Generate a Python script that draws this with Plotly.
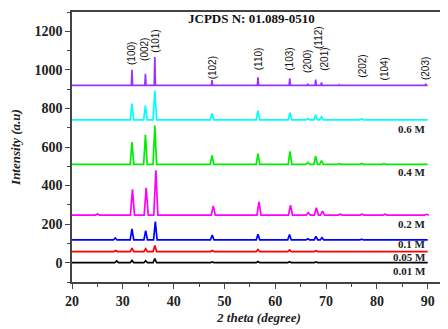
import plotly.graph_objects as go

# ---- data ----
series_names = ["0.01 M", "0.05 M", "0.1 M", "0.2 M", "0.4 M", "0.6 M", "JCPDS"]
baselines = [0, 58, 118, 247, 510, 741, 920]

peaks_001 = [(28.8, 9), (31.8, 12), (34.5, 10), (36.3, 22), (47.6, 4), (56.6, 6), (62.8, 5), (68.0, 4)]
peaks_005 = [(28.6, 5), (31.8, 18), (34.5, 14), (36.3, 31), (47.6, 5), (56.6, 10), (62.8, 8), (68.0, 4)]
peaks_01 = [(28.5, 10), (31.8, 57), (34.5, 48), (36.4, 95), (47.6, 26), (56.6, 30), (62.8, 28),
            (66.4, 6), (68.0, 19), (69.2, 12), (77.0, 4)]
peaks_02 = [(25.0, 6), (31.9, 133), (34.6, 141), (36.5, 232), (47.8, 48), (56.8, 69), (63.0, 52),
            (66.5, 12), (68.1, 38), (69.3, 21), (72.8, 5), (77.1, 5), (81.6, 5), (89.8, 4)]
peaks_04 = [(31.8, 115), (34.45, 153), (36.3, 201), (47.55, 46), (56.6, 56), (62.9, 67),
            (66.4, 10), (67.95, 43), (69.1, 20), (72.6, 4), (77.0, 5), (81.4, 4)]
peaks_06 = [(31.8, 84), (34.45, 74), (36.3, 150), (47.55, 33), (56.6, 47), (62.9, 37),
            (66.4, 6), (67.95, 25), (69.1, 15), (77.0, 4), (81.4, 3), (89.6, 3)]
peaks_ref = [(31.8, 80), (34.45, 60), (36.3, 146), (47.55, 27), (56.6, 41), (62.85, 36),
             (66.4, 5), (67.95, 29), (69.1, 15), (72.6, 3), (77.0, 3), (81.4, 3), (89.6, 5)]
all_peaks = [peaks_001, peaks_005, peaks_01, peaks_02, peaks_04, peaks_06, peaks_ref]

hkl_labels = ["(100)", "(002)", "(101)", "(102)", "(110)", "(103)", "(200)", "(112)", "(201)",
              "(202)", "(104)", "(203)"]
hkl_x = [31.75, 34.3, 36.4, 47.6, 56.6, 62.8, 66.2, 68.4, 69.7, 77.0, 81.5, 89.7]
hkl_y = [1086, 1107, 1148, 1009, 1060, 1055, 1045, 1170, 1055, 1020, 1005, 1005]

label_y = [-41, 32, 98, 201, 469, 695]

x_start, x_end = 20, 90

# ---- styles ----
colors = ["#000000", "#ff0000", "#0000ff", "#ff00ff", "#00ee00", "#00ffff", "#9933ff"]
half_widths = [0.35, 0.35, 0.35, 0.4, 0.35, 0.35, 0.12]

fig = go.Figure()
for name, base, pk, col, hw in zip(series_names, baselines, all_peaks, colors, half_widths):
    xs, ys = [x_start], [base]
    for p, h in pk:
        xs += [p - hw, p, p + hw]
        ys += [base, base + h, base]
    xs.append(x_end)
    ys.append(base)
    fig.add_trace(go.Scatter(x=xs, y=ys, mode="lines", name=name,
                             line=dict(color=col, width=1.7), showlegend=False))

for t, x, y in zip(hkl_labels, hkl_x, hkl_y):
    fig.add_annotation(x=x, y=y, text=t, textangle=-90, showarrow=False,
                       font=dict(family="Liberation Sans", size=10, color="#111"))

for t, y in zip(series_names[:6], label_y):
    fig.add_annotation(x=90, y=y, text=t, showarrow=False, xanchor="right",
                       font=dict(family="Liberation Serif", size=11, color="#222", weight="bold"))

fig.add_annotation(x=55.3, y=1267, text="JCPDS N: 01.089-0510", showarrow=False,
                   font=dict(family="Liberation Serif", size=13, color="#111", weight="bold"))

# page body has an 8px default margin, so the figure is sized/offset to compensate
fig.update_layout(
    width=440, height=321,
    margin=dict(l=64, r=0, t=4, b=47),
    paper_bgcolor="white", plot_bgcolor="white",
)
fig.update_xaxes(
    range=[20, 93.6], dtick=10, tick0=20, ticks="outside", ticklen=5, tickwidth=1.2,
    tickcolor="#444", showline=True, linecolor="#444", linewidth=1.5, mirror=True,
    showgrid=False, zeroline=False,
    minor=dict(dtick=5, ticks="outside", ticklen=3, tickcolor="#444"),
    tickfont=dict(family="Liberation Serif", size=14, color="#222", weight="bold"),
    title=dict(text="<i>2 theta (degree)</i>", standoff=5,
               font=dict(family="Liberation Serif", size=13, color="#222", weight="bold")),
)
fig.update_yaxes(
    range=[-100, 1300], tickvals=[0, 200, 400, 600, 800, 1000, 1200], ticks="outside",
    ticklen=5, tickwidth=1.2, tickcolor="#444", showline=True, linecolor="#444",
    linewidth=1.5, mirror=True, showgrid=False, zeroline=False,
    minor=dict(dtick=100, tick0=0, ticks="outside", ticklen=3, tickcolor="#444"),
    tickfont=dict(family="Liberation Serif", size=14, color="#222", weight="bold"),
    title=dict(text="<i>Intensity (a.u)</i>", standoff=15,
               font=dict(family="Liberation Serif", size=13, color="#222", weight="bold")),
)

fig.write_html("out.html")
